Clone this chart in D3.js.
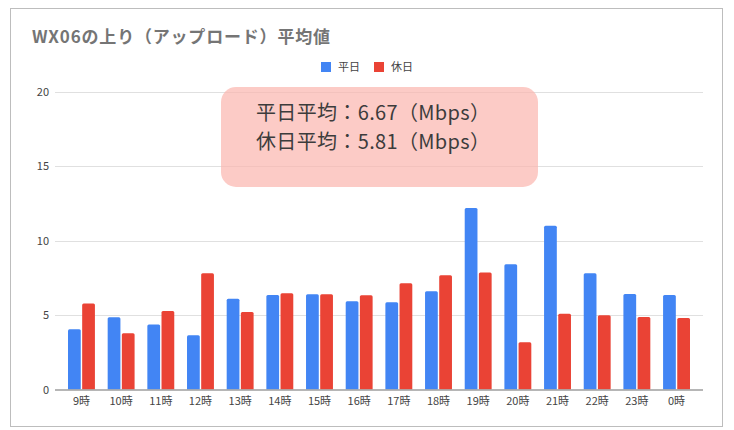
<!DOCTYPE html>
<html>
<head>
<meta charset="utf-8">
<script src="https://cdn.jsdelivr.net/npm/d3@7"></script>
<style>
  body { margin: 0; background: #fff; }
  text { font-family: "Noto Sans CJK JP", "Noto Sans", sans-serif; }
</style>
</head>
<body>
<div class="chart"></div>
<script>
var hours = ["9時","10時","11時","12時","13時","14時","15時","16時","17時","18時","19時","20時","21時","22時","23時","0時"];
var weekday = [4.04,4.85,4.37,3.64,6.09,6.34,6.39,5.92,5.85,6.59,12.18,8.4,10.99,7.8,6.41,6.34];
var holiday = [5.78,3.77,5.27,7.8,5.2,6.46,6.39,6.32,7.13,7.66,7.86,3.17,5.09,4.98,4.87,4.8];
var seriesNames = ["平日", "休日"];
var yTicks = [0, 5, 10, 15, 20];
var notes = ["平日平均：6.67（Mbps）", "休日平均：5.81（Mbps）"];

var w = 734, h = 430;
var colors = ["#4285f4", "#ea4335"];

var svg = d3.select(".chart").append("svg")
  .attr("width", w).attr("height", h);

// frame
svg.append("rect")
  .attr("x", 10.5).attr("y", 8.5)
  .attr("width", 712).attr("height", 418)
  .attr("fill", "#fff").attr("stroke", "#bdbdbd");

// title
svg.append("text")
  .attr("x", 32).attr("y", 43)
  .attr("font-size", 17).attr("font-weight", "bold")
  .attr("fill", "#757575")
  .attr("textLength", 298).attr("lengthAdjust", "spacing")
  .text("WX06の上り（アップロード）平均値");

// scales
var x0 = d3.scaleBand().domain(hours).range([55, 703]).paddingInner(0).paddingOuter(0.167);
var x1 = d3.scaleBand().domain([0, 1]).range([0, x0.bandwidth()]).paddingInner(0.1).paddingOuter(0.45);
var y = d3.scaleLinear().domain([0, 20]).range([389.5, 91.5]);

// grid
svg.append("g").selectAll("line")
  .data(yTicks.slice(1)).enter().append("line")
  .attr("x1", 55).attr("x2", 703)
  .attr("y1", d => Math.round(y(d)) + 0.5).attr("y2", d => Math.round(y(d)) + 0.5)
  .attr("stroke", "#e0e0e0");

// y labels
svg.append("g").selectAll("text")
  .data(yTicks).enter().append("text")
  .attr("x", 49).attr("y", d => y(d) + 4)
  .attr("text-anchor", "end")
  .attr("font-size", 11).attr("fill", "#444")
  .text(d => d);

// bars
var rows = hours.map((hr, i) => ({ hour: hr, vals: [weekday[i], holiday[i]] }));
var groups = svg.append("g").selectAll("g")
  .data(rows).enter().append("g")
  .attr("transform", d => "translate(" + x0(d.hour) + ",0)");

groups.selectAll("path")
  .data(d => d.vals.map((v, k) => ({ k: k, v: v })))
  .enter().append("path")
  .attr("fill", d => colors[d.k])
  .attr("d", function(d) {
    var bx = x1(d.k), bw = x1.bandwidth(), top = y(d.v), bot = y(0), r = 1.5;
    return "M" + bx + "," + bot + "V" + (top + r) + "Q" + bx + "," + top + " " + (bx + r) + "," + top +
      "H" + (bx + bw - r) + "Q" + (bx + bw) + "," + top + " " + (bx + bw) + "," + (top + r) + "V" + bot + "Z";
  });

// x axis line
svg.append("line")
  .attr("x1", 55).attr("x2", 703)
  .attr("y1", 390).attr("y2", 390)
  .attr("stroke", "#9e9e9e").attr("stroke-width", 1.5);

// x labels
svg.append("g").selectAll("text")
  .data(hours).enter().append("text")
  .attr("x", d => x0(d) + x0.bandwidth() / 2)
  .attr("y", 405)
  .attr("text-anchor", "middle")
  .attr("font-size", 11).attr("fill", "#444")
  .text(d => d);

// legend
var legend = svg.append("g");
var legX = [321, 374];
seriesNames.forEach(function(name, k) {
  legend.append("rect")
    .attr("x", legX[k]).attr("y", 62)
    .attr("width", 10).attr("height", 10)
    .attr("fill", colors[k]);
  legend.append("text")
    .attr("x", legX[k] + 17).attr("y", 71)
    .attr("font-size", 11).attr("fill", "#444")
    .text(name);
});

// annotation box
svg.append("rect")
  .attr("x", 221).attr("y", 87)
  .attr("width", 317).attr("height", 100)
  .attr("rx", 15).attr("ry", 15)
  .attr("fill", "#fbb5ae").attr("fill-opacity", 0.7);

svg.append("g").selectAll("text")
  .data(notes).enter().append("text")
  .attr("x", 256)
  .attr("y", (d, i) => 120 + i * 29)
  .attr("font-size", 20).attr("fill", "#3c3c3c")
  .attr("textLength", 234).attr("lengthAdjust", "spacing")
  .text(d => d);
</script>
</body>
</html>
